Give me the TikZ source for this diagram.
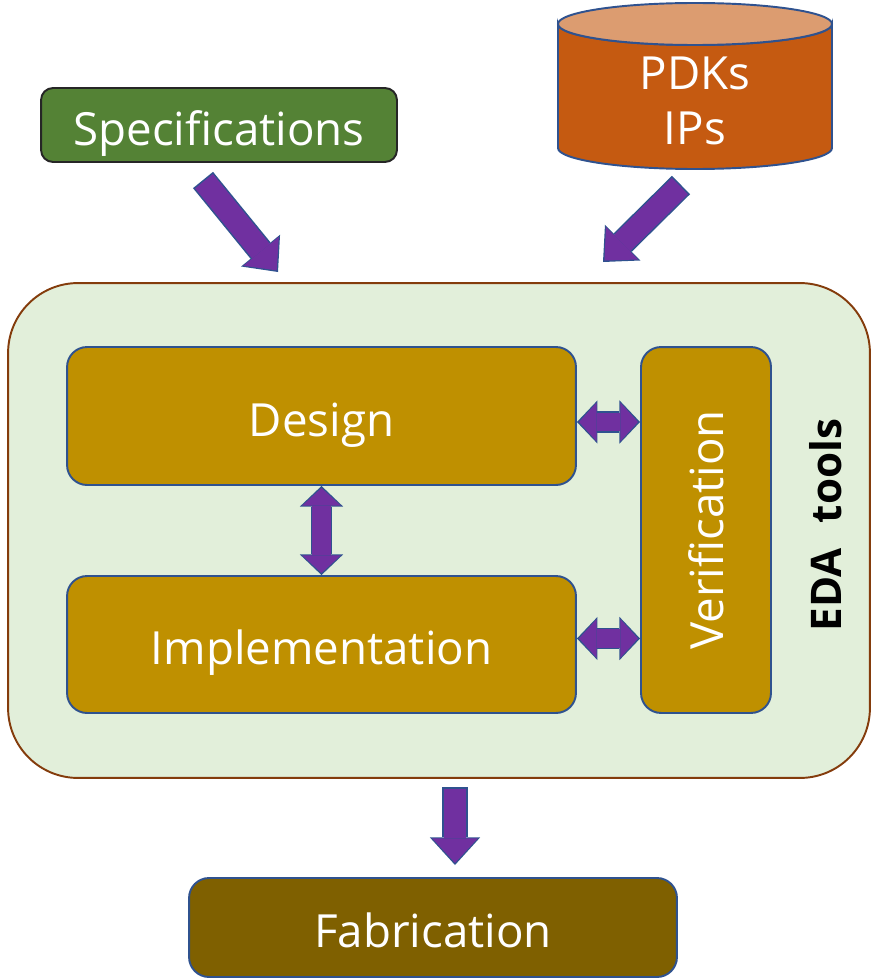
\documentclass[tikz,border=0pt]{standalone}
\usepackage{fontspec}
\setmainfont{Open Sans}
\usetikzlibrary{arrows.meta,positioning,calc}
\definecolor{Leaf}{HTML}{548235}
\definecolor{Rust}{HTML}{C55A11}
\definecolor{RustTop}{HTML}{DC9C70}
\definecolor{Mint}{HTML}{E2EFDA}
\definecolor{Bark}{HTML}{843C0C}
\definecolor{Gold}{HTML}{BF9000}
\definecolor{Olive}{HTML}{7F6000}
\definecolor{Navy}{HTML}{2F528F}
\definecolor{Violet}{HTML}{7030A0}
\tikzset{
  big/.style={font=\fontsize{26}{31}\selectfont},
  box/.style={rectangle,rounded corners=4mm,draw=Navy,line width=1.1pt,fill=Gold,text=white,big,inner sep=0pt,
    text height=25pt,text depth=2pt},
  fabbox/.style={box,fill=Olive},
  specbox/.style={box,rounded corners=2.4mm,fill=Leaf,draw=black!85},
  frame/.style={rectangle,rounded corners=14mm,draw=Bark,line width=1.1pt,fill=Mint},
  can/.style={draw=Navy,line width=1.1pt},
  fat/.style={draw=Violet,line width=13pt,-{Triangle[width=26pt,length=14pt,line width=0pt]},
    shorten >=1.2pt,shorten <=.9pt,
    preaction={draw=Navy,line width=14.7pt,-{Triangle[width=28.6pt,length=15.7pt,line width=0pt]},shorten >=0pt,shorten <=0pt}},
  fatdbl/.style={draw=Violet,line width=10.6pt,{Triangle[width=22pt,length=10pt,line width=0pt]}-{Triangle[width=22pt,length=10pt,line width=0pt]},
    shorten >=1.2pt,shorten <=1.2pt,
    preaction={draw=Navy,line width=12.3pt,{Triangle[width=24.6pt,length=11.7pt,line width=0pt]}-{Triangle[width=24.6pt,length=11.7pt,line width=0pt]},shorten >=0pt,shorten <=0pt}}
}
\begin{document}
\begin{tikzpicture}[x=0.02cm,y=-0.02cm]
  \useasboundingbox (0,0) rectangle (871,980);
  % EDA frame and its boxes
  \node[frame,minimum width=17.24cm,minimum height=9.9cm] (eda) at (439,530.5) {};
  \node[rotate=90,font=\bfseries\fontsize{24}{28}\selectfont] (edalab) at (826,525) {EDA\hspace{.6em}tools};
  \node[box,minimum width=10.18cm,minimum height=2.76cm] (design) at (321.5,416) {Design};
  \node[box,minimum width=10.18cm,minimum height=2.74cm] (impl) at (321.5,644.5) {Implementation};
  \node[box,minimum width=2.6cm,minimum height=7.32cm,
    label={[rotate=90,text=white,big]center:Verification}] (verif) at (706,530) {};
  % inputs
  \node[specbox,minimum width=7.12cm,minimum height=1.48cm] (spec) at (219,125) {Specifications};
  \draw[can,fill=Rust] (558,24) -- (558,148) arc[start angle=180,end angle=0,x radius=137,y radius=21]
    -- (832,24) arc[start angle=0,end angle=180,x radius=137,y radius=21] -- cycle;
  \draw[can,fill=RustTop] (695,24) ellipse[x radius=137,y radius=21];
  \node[align=center,text=white,big] (pdk) at (695,101) {PDKs\\IPs};
  % output
  \node[fabbox,minimum width=9.76cm,minimum height=1.98cm] (fab) at (433,927.5) {Fabrication};
  % arrows
  \coordinate (specTail) at (203,180);
  \coordinate (specTip) at (278,272);
  \coordinate (pdkTail) at (681,185);
  \coordinate (pdkTip) at (603,262);
  \coordinate (fabTail) at (455,787);
  \coordinate (fabTip) at (455,865);
  \draw[fat] (specTail) -- (specTip);
  \draw[fat] (pdkTail) -- (pdkTip);
  \draw[fat] (fabTail) -- (fabTip);
  \draw[fatdbl] ($(design.east)+(0,6)$) -- ($(design.east -| verif.west)+(0,6)$);
  \draw[fatdbl] ($(impl.east)+(0,-6)$) -- ($(impl.east -| verif.west)+(0,-6)$);
  \draw[fatdbl] (design.south) -- (impl.north);
\end{tikzpicture}
\end{document}
